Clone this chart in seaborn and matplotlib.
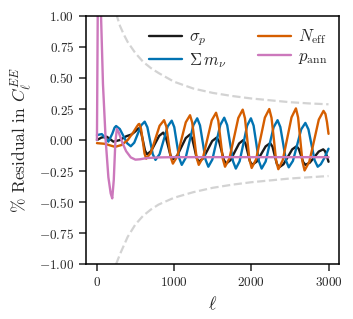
import numpy as np
import pandas as pd
import matplotlib
matplotlib.use("Agg")
import matplotlib.pyplot as plt
import seaborn as sns

# ---- data ----
# sigma_p (black)
ell_sig = [2, 60, 129, 215, 300, 380, 450, 500, 530, 547,
           573, 599, 624, 650, 703, 755, 808, 860, 891, 923, 954, 985,
           1041, 1096, 1152, 1207, 1235, 1264, 1292, 1320, 1378, 1436, 1494, 1552,
           1583, 1614, 1644, 1675, 1731, 1786, 1842, 1897, 1925, 1954, 1982, 2010,
           2069, 2128, 2186, 2245, 2274, 2303, 2331, 2360, 2417, 2474, 2530, 2587,
           2615, 2644, 2672, 2700, 2758, 2816, 2873, 2931, 2955, 2978, 3000]
res_sig = [0.0, 0.02, 0.027, -0.013, 0.0, 0.03, 0.045, 0.07, 0.09, 0.095,
           0.064, -0.01, -0.084, -0.115, -0.089, -0.028, 0.034, 0.06, 0.029, -0.048, -0.124, -0.155,
           -0.126, -0.055, 0.016, 0.045, 0.013, -0.065, -0.143, -0.175, -0.147, -0.078, -0.008, 0.02,
           -0.011, -0.085, -0.159, -0.19, -0.162, -0.095, -0.028, 0.0, -0.029, -0.1, -0.171, -0.2,
           -0.174, -0.113, -0.051, -0.025, -0.053, -0.123, -0.192, -0.22, -0.195, -0.135, -0.075, -0.05,
           -0.072, -0.125, -0.178, -0.2, -0.182, -0.138, -0.093, -0.075, -0.09, -0.13, -0.175]

# sum m_nu (blue)
ell_mnu = [2, 65, 105, 150, 200, 230, 250, 298, 345, 393, 440, 485, 530, 575, 620,
           655, 690, 725, 760, 813, 865, 918, 970, 1003, 1035, 1068, 1100, 1150, 1200, 1250, 1300,
           1336, 1372, 1408, 1444, 1496, 1547, 1599, 1650, 1688, 1725, 1763, 1800,
           1849, 1898, 1946, 1995, 2030, 2065, 2099, 2134, 2186, 2237, 2289, 2340,
           2376, 2413, 2449, 2485, 2539, 2593, 2646, 2700, 2740, 2780, 2820, 2860,
           2900, 2950, 3000]
res_mnu = [0.04, 0.048, 0.02, -0.013, 0.05, 0.10, 0.113, 0.089, 0.032, -0.026, -0.05, -0.021, 0.049,
           0.119, 0.148, 0.103, -0.006, -0.115, -0.16, -0.114, -0.002, 0.11, 0.156, 0.104, -0.022,
           -0.148, -0.20, -0.145, -0.013, 0.12, 0.175, 0.118, -0.02, -0.158, -0.215, -0.157, -0.018,
           0.122, 0.18, 0.12, -0.025, -0.17, -0.23, -0.171, -0.028, 0.116, 0.175, 0.116, -0.028,
           -0.171, -0.23, -0.173, -0.035, 0.103, 0.16, 0.105, -0.03, -0.165, -0.22, -0.168, -0.041,
           0.086, 0.138, 0.086, -0.039, -0.163, -0.215, -0.195, -0.14, -0.07]

# N_eff (orange)
ell_neff = [2, 100, 237, 320, 400, 470, 520, 540, 551, 573, 596, 618, 640,
            698, 756, 813, 871, 900, 928, 957, 985, 1041, 1096, 1152, 1207,
            1235, 1264, 1292, 1320, 1376, 1432, 1488, 1544, 1573, 1602, 1631, 1660,
            1717, 1775, 1832, 1889, 1918, 1947, 1976, 2005, 2062, 2119, 2176, 2233,
            2262, 2292, 2321, 2350, 2407, 2464, 2521, 2578, 2606, 2634, 2662, 2690,
            2751, 2813, 2874, 2935, 2960, 2980, 3000]
res_neff = [-0.025, -0.03, -0.055, -0.04, 0.0, 0.06, 0.11, 0.127, 0.13, 0.089, -0.01, -0.109, -0.15,
            -0.105, 0.005, 0.115, 0.16, 0.109, -0.015, -0.139, -0.19, -0.133, 0.005, 0.143, 0.20,
            0.142, 0.0, -0.142, -0.20, -0.139, 0.01, 0.159, 0.22, 0.156, 0.003, -0.151, -0.215,
            -0.148, 0.015, 0.178, 0.245, 0.176, 0.01, -0.156, -0.225, -0.156, 0.013, 0.181, 0.25,
            0.179, 0.008, -0.164, -0.235, -0.163, 0.01, 0.183, 0.255, 0.182, 0.005, -0.172, -0.245,
            -0.175, -0.005, 0.165, 0.235, 0.21, 0.145, 0.05]

# p_ann (pink)
ell_pann = [2, 8, 15, 25, 35, 45, 55, 80, 115, 150, 180, 200, 220, 240, 260, 285, 330, 380, 440,
            500, 560, 650, 800, 1000, 1500, 2000, 2500, 3000]
res_pann = [0.0, 0.6, 1.3, 1.9, 2.1, 1.6, 1.0, 0.45, 0.0, -0.3, -0.43, -0.47, -0.32, -0.02, 0.09,
            0.06, -0.02, -0.09, -0.14, -0.158, -0.155, -0.145, -0.14, -0.138, -0.138, -0.138,
            -0.138, -0.138]

# cosmic-variance envelope (dashed grey)
ell_cv = [250, 300, 350, 400, 500, 600, 700, 800, 1000, 1250, 1500, 1750, 2000, 2250, 2500, 2750, 3000]
cv_upper = [1.02, 0.92, 0.85, 0.79, 0.70, 0.63, 0.58, 0.54, 0.47, 0.415, 0.38, 0.355, 0.335, 0.32,
            0.305, 0.295, 0.288]
cv_lower = [-1.00, -0.92, -0.85, -0.78, -0.68, -0.61, -0.56, -0.52, -0.465, -0.42, -0.385, -0.36,
            -0.34, -0.325, -0.31, -0.30, -0.29]

labels = [r'$\sigma_p$', r'$\Sigma\, m_\nu$', r'$N_{\rm eff}$', r'$p_{\rm ann}$']
colors = ['#1a1a1a', '#0173b2', '#d55e00', '#cc78bc']

# ---- style ----
sns.set_theme(style="ticks")
plt.rcParams['font.family'] = 'serif'
plt.rcParams['font.serif'] = ['cmr10']
plt.rcParams['mathtext.fontset'] = 'cm'
plt.rcParams['axes.formatter.use_mathtext'] = True
plt.rcParams['axes.unicode_minus'] = True

fig = plt.figure(figsize=(3.53, 3.19), dpi=100)
ax = fig.add_axes([0.244, 0.172, 0.716, 0.778])

sns.lineplot(x=ell_cv, y=cv_upper, ax=ax, color='#d3d3d3', lw=1.6, linestyle='--', sort=False)
sns.lineplot(x=ell_cv, y=cv_lower, ax=ax, color='#d3d3d3', lw=1.6, linestyle='--', sort=False)

series = [(ell_sig, res_sig), (ell_mnu, res_mnu), (ell_neff, res_neff), (ell_pann, res_pann)]
handles = []
for (xx, yy), lab, col in zip(series, labels, colors):
    sns.lineplot(x=xx, y=yy, ax=ax, color=col, lw=1.7, sort=False)
    handles.append(ax.lines[-1])

ax.set_xlim(-138, 3134)
ax.set_ylim(-1.0, 1.0)
ax.set_xticks([0, 1000, 2000, 3000])
ax.set_yticks([-1.0, -0.75, -0.5, -0.25, 0.0, 0.25, 0.5, 0.75, 1.0])
ax.yaxis.set_major_formatter(matplotlib.ticker.FormatStrFormatter('$%.2f$'))
ax.xaxis.set_major_formatter(matplotlib.ticker.FormatStrFormatter('$%d$'))
ax.tick_params(axis='both', labelsize=9.5, length=5, width=1.1, direction='out')
for s in ax.spines.values():
    s.set_visible(True)
    s.set_linewidth(1.1)
    s.set_color('black')

ax.set_xlabel(r'$\ell$', fontsize=13)
ax.set_ylabel(r'$\%$ Residual in $C_\ell^{EE}$', fontsize=12.5, labelpad=4)

leg = ax.legend(handles, labels, loc='upper right', ncol=2, frameon=False, fontsize=12,
                handlelength=2.0, columnspacing=1.9, handletextpad=0.4, labelspacing=0.15,
                borderaxespad=0.3)

fig.savefig("out.png", dpi=100)
